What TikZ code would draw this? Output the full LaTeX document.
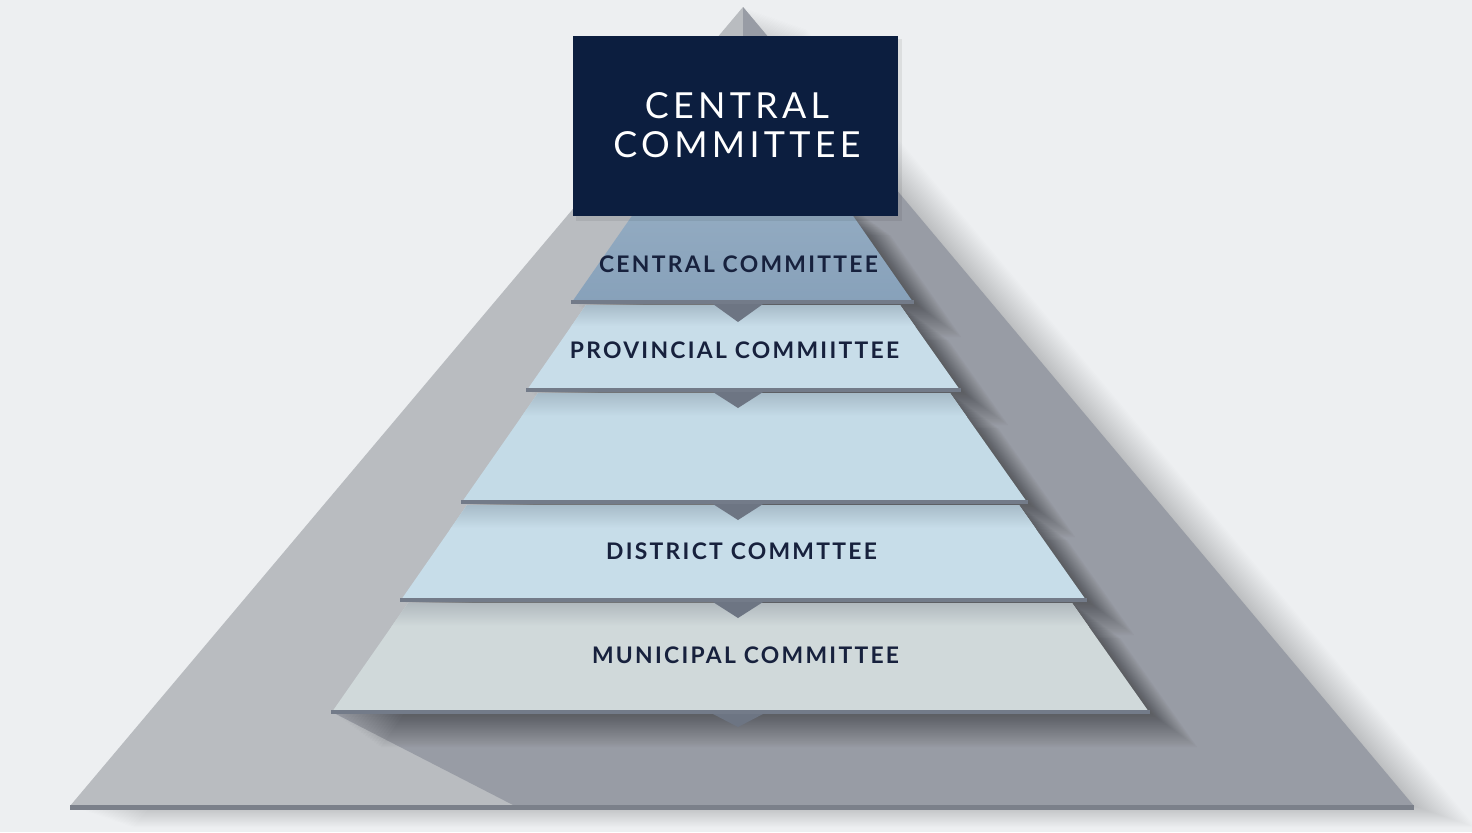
\documentclass[tikz,border=0pt]{standalone}
\usepackage{fontspec}
\setmainfont{Lato}
\newfontfamily\boxfont[LetterSpace=12]{Lato}
\newfontfamily\tierfont[LetterSpace=10]{Lato}
\definecolor{bg}{HTML}{EDEFF1}
\definecolor{trilight}{HTML}{B9BCC0}
\definecolor{tridark}{HTML}{989CA5}
\definecolor{baseedge}{HTML}{7B808A}
\definecolor{navy}{HTML}{0C1E3F}
\definecolor{ink}{HTML}{17213D}
\definecolor{tierAtop}{HTML}{94ACC2}
\definecolor{tierA}{HTML}{87A1BA}
\definecolor{tierB}{HTML}{C8DDE9}
\definecolor{tierC}{HTML}{C4DBE7}
\definecolor{tierD}{HTML}{C7DDE9}
\definecolor{tierE}{HTML}{D0D9DA}
\definecolor{bandB}{HTML}{A7BBC8}
\definecolor{bandE}{HTML}{B1B9BE}
\definecolor{slab}{HTML}{737B89}
\definecolor{notch}{HTML}{6D7583}
\tikzset{
  tierlabel/.style={font=\tierfont\bfseries\fontsize{6.5}{7}\selectfont, text=ink, inner sep=0pt},
  boxlabel/.style={font=\boxfont\fontsize{10.2}{11}\selectfont, text=white, align=center, inner sep=0pt},
  slabline/.style={fill=slab},
  notchshape/.style={fill=notch},
}
\begin{document}
\begin{tikzpicture}[x=0.01cm,y=-0.01cm]
\useasboundingbox (0,0) rectangle (1472,832);
\fill[bg] (0,0) rectangle (1472,832);
% soft shadow of the big triangle
\foreach \k in {1,...,24}{
  \fill[black,opacity=0.009,shift={(2.6*\k,0.9*\k)}] (743,7) -- (1414,806) -- (70,806) -- cycle;
}
% big triangle
\fill[trilight] (743,7) -- (1414,806) -- (70,806) -- cycle;
\fill[tridark] (743,7) -- (1414,806) -- (515,806) -- (332,712) -- (743,712) -- cycle;
\fill[baseedge] (70,805) rectangle (1414,810);
% tier shadows on the big triangle
\foreach \k in {1,...,22}{
  \begin{scope}[shift={(2.2*\k,1.6*\k)}]
  \fill[black,opacity=0.02] (332,712) -- (408,603) -- (1072,603) -- (1149,712) -- cycle;
  \fill[black,opacity=0.02] (401,600) -- (467,505) -- (1019,505) -- (1086,600) -- cycle;
  \fill[black,opacity=0.02] (462,502) -- (538,393) -- (950,393) -- (1027,502) -- cycle;
  \fill[black,opacity=0.02] (527,390) -- (586,305) -- (900,305) -- (960,390) -- cycle;
  \fill[black,opacity=0.02] (572,302) -- (643,200) -- (842,200) -- (913,302) -- cycle;
  \end{scope}
}
% tier 5 (municipal)
\fill[tierE] (332,712) -- (408,603) -- (1072,603) -- (1149,712) -- cycle;
\begin{scope}
  \clip (332,712) -- (408,603) -- (1072,603) -- (1149,712) -- cycle;
  \shade[top color=bandE, bottom color=tierE] (330,603) rectangle (1150,626);
\end{scope}
\fill[slabline] (331,710) rectangle (1150,714);
\fill[notchshape] (713,714) -- (763,714) -- (738,727) -- cycle;
% tier 4 (district)
\fill[tierD] (401,600) -- (467,505) -- (1019,505) -- (1086,600) -- cycle;
\begin{scope}
  \clip (401,600) -- (467,505) -- (1019,505) -- (1086,600) -- cycle;
  \shade[top color=bandB, bottom color=tierD] (400,505) rectangle (1090,528);
\end{scope}
\fill[slabline] (400,598) rectangle (1087,602);
\fill[notchshape] (713,602) -- (763,602) -- (738,618) -- cycle;
% tier 3 (blank)
\fill[tierC] (462,502) -- (538,393) -- (950,393) -- (1027,502) -- cycle;
\begin{scope}
  \clip (462,502) -- (538,393) -- (950,393) -- (1027,502) -- cycle;
  \shade[top color=bandB, bottom color=tierC] (460,393) rectangle (1030,416);
\end{scope}
\fill[slabline] (461,500) rectangle (1028,504);
\fill[notchshape] (713,504) -- (763,504) -- (738,520) -- cycle;
% tier 2 (provincial)
\fill[tierB] (527,390) -- (586,305) -- (900,305) -- (960,390) -- cycle;
\begin{scope}
  \clip (527,390) -- (586,305) -- (900,305) -- (960,390) -- cycle;
  \shade[top color=bandB, bottom color=tierB] (520,305) rectangle (965,326);
\end{scope}
\fill[slabline] (526,388) rectangle (961,392);
\fill[notchshape] (713,392) -- (763,392) -- (738,408) -- cycle;
% tier 1 (central)
\shade[top color=tierAtop, bottom color=tierA] (572,302) -- (643,200) -- (842,200) -- (913,302) -- cycle;
\fill[slabline] (571,300) rectangle (914,304);
\fill[notchshape] (713,304) -- (763,304) -- (738,322) -- cycle;
% top box
\fill[black,opacity=0.07] (576,39) rectangle (902,221);
\fill[navy] (573,36) rectangle (898,216);
% labels
\node[boxlabel] (cc) at (737,125) {CENTRAL\\COMMITTEE};
\node[tierlabel] (t1) at (738.5,264) {CENTRAL COMMITTEE};
\node[tierlabel] (t2) at (734.5,350.5) {PROVINCIAL COMMIITTEE};
\node[tierlabel] (t4) at (741.5,551) {DISTRICT COMMTTEE};
\node[tierlabel] (t5) at (745.5,655) {MUNICIPAL COMMITTEE};
\end{tikzpicture}
\end{document}
